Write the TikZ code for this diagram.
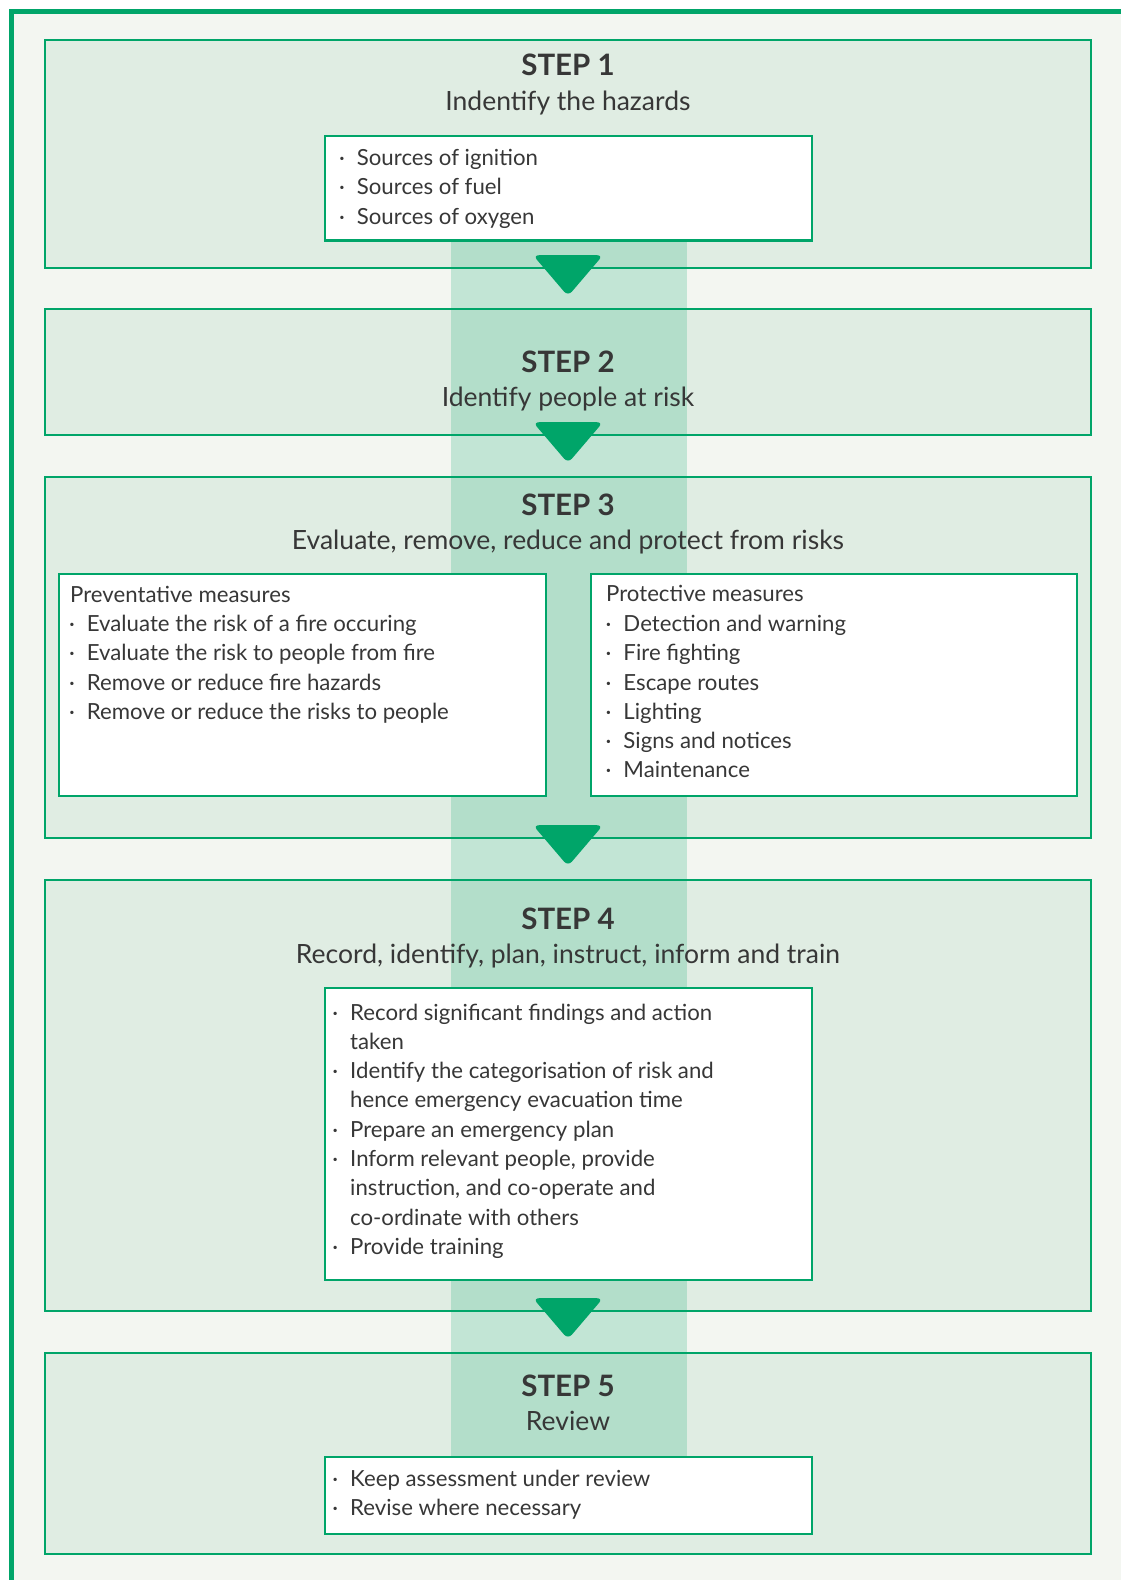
\documentclass[tikz,border=0pt]{standalone}
\usepackage{fontspec}
\setmainfont{Lato}
\usetikzlibrary{calc}
\definecolor{grn}{RGB}{0,165,105}
\definecolor{stepfill}{RGB}{224,237,227}
\definecolor{bgc}{RGB}{243,246,241}
\definecolor{txt}{RGB}{55,55,55}
\newcommand\bul{\llap{·\hspace{12pt}}}
\tikzset{
  stepbg/.style={rectangle, fill=stepfill, inner sep=0, minimum width=1046pt},
  stepline/.style={draw=grn, line width=2.4pt},
  wbox/.style={rectangle, fill=white, draw=grn, line width=2.3pt, inner sep=0},
  steptitle/.style={font=\fontsize{29.5}{31}\selectfont\bfseries, text=txt, anchor=base, inner sep=0},
  stepsub/.style={font=\fontsize{26.5}{28}\selectfont, text=txt, anchor=base, inner sep=0},
  item/.style={font=\fontsize{22.2}{26}\selectfont, text=txt, anchor=base west, inner sep=0},
  downarrow/.style={fill=grn, rounded corners=6pt},
  band/.style={fill=grn, opacity=0.2},
}
\begin{document}
\begin{tikzpicture}[x=1pt, y=-1pt]
\useasboundingbox (0,0) rectangle (1121,1580);
\fill[white] (0,0) rectangle (1121,1580);
\fill[bgc] (9,9) rectangle (1121,1580);
\draw[grn, line width=4.5pt] (9,11.5) -- (1121,11.5);
\draw[grn, line width=4.5pt] (11.5,9) -- (11.5,1580);

% step panels (fill)
\node[stepbg, minimum height=228pt] (s1) at (568,154) {};
\node[stepbg, minimum height=126pt] (s2) at (568,372) {};
\node[stepbg, minimum height=361pt] (s3) at (568,657.5) {};
\node[stepbg, minimum height=431pt] (s4) at (568,1095.5) {};
\node[stepbg, minimum height=201pt] (s5) at (568,1453.5) {};

% vertical band
\fill[band] (451,180) rectangle (687,1500);

% step borders
\foreach \s in {s1,s2,s3,s4,s5}
  \draw[stepline] (\s.north west) rectangle (\s.south east);

% white boxes
\node[wbox, minimum width=487pt, minimum height=104.5pt] (w1) at (568.5,188.25) {};
\node[wbox, minimum width=487pt, minimum height=222pt] (w3a) at (302.5,685) {};
\node[wbox, minimum width=486pt, minimum height=222pt] (w3b) at (834,685) {};
\node[wbox, minimum width=487pt, minimum height=292pt] (w4) at (568.5,1134) {};
\node[wbox, minimum width=487pt, minimum height=77pt] (w5) at (568.5,1495.5) {};

% arrows between steps
\foreach \s in {s1,s2,s3,s4}
  \fill[downarrow] ($(\s.south)+(-35,-13)$) -- ($(\s.south)+(35,-13)$) -- ($(\s.south)+(0,28)$) -- cycle;

% titles
\node[steptitle] (t1) at (568,75.7) {STEP 1};
\node[stepsub] (u1) at (568,110) {Indentify the hazards};
\node[steptitle] (t2) at (568,372) {STEP 2};
\node[stepsub] (u2) at (568,406) {Identify people at risk};
\node[steptitle] (t3) at (568,515) {STEP 3};
\node[stepsub] (u3) at (568,549) {Evaluate, remove, reduce and protect from risks};
\node[steptitle] (t4) at (568,929) {STEP 4};
\node[stepsub] (u4) at (568,963) {Record, identify, plan, instruct, inform and train};
\node[steptitle] (t5) at (568,1396) {STEP 5};
\node[stepsub] (u5) at (568,1430.7) {Review};

% step 1 list
\foreach \t [count=\i] in {Sources of ignition, Sources of fuel, Sources of oxygen}
  \node[item] (l1-\i) at (356.7,{165+29.5*(\i-1)}) {\bul\t};

% step 3 lists
\node[item] (h3a) at (70,602.3) {Preventative measures};
\foreach \t [count=\i] in {Evaluate the risk of a fire occuring, Evaluate the risk to people from fire, Remove or reduce fire hazards, Remove or reduce the risks to people}
  \node[item] (l3a-\i) at (86.7,{631.7+29.2*(\i-1)}) {\bul\t};
\node[item] (h3b) at (606,601.7) {Protective measures};
\foreach \t [count=\i] in {Detection and warning, Fire fighting, Escape routes, Lighting, Signs and notices, Maintenance}
  \node[item] (l3b-\i) at (623.3,{631.7+29.15*(\i-1)}) {\bul\t};

% step 4 list
\foreach \b/\t [count=\i] in {1/Record significant findings and action, 0/taken, 1/Identify the categorisation of risk and, 0/hence emergency evacuation time, 1/Prepare an emergency plan, 1/{Inform relevant people, provide}, 0/{instruction, and co-operate and}, 0/co-ordinate with others, 1/Provide training}
  \node[item] (l4-\i) at (350,{1020+29.29*(\i-1)}) {\ifnum\b=1 \bul\fi\t};

% step 5 list
\foreach \t [count=\i] in {Keep assessment under review, Revise where necessary}
  \node[item] (l5-\i) at (350,{1486+29*(\i-1)}) {\bul\t};
\end{tikzpicture}
\end{document}
